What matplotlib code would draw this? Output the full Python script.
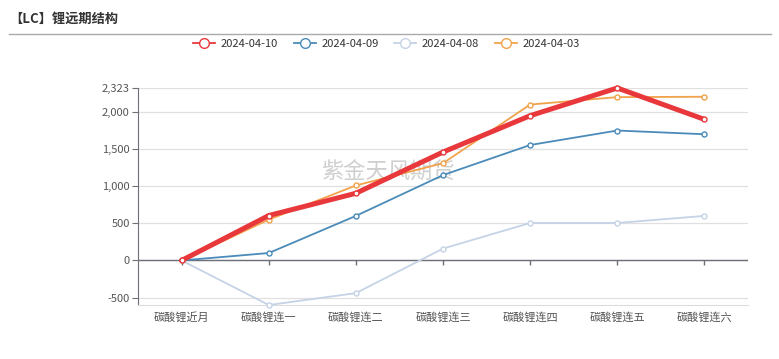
import matplotlib
matplotlib.use("Agg")
import matplotlib.pyplot as plt
from matplotlib.lines import Line2D
from matplotlib.ticker import FuncFormatter

plt.rcParams['font.family'] = ['Noto Sans CJK SC', 'DejaVu Sans']

categories = ["碳酸锂近月", "碳酸锂连一", "碳酸锂连二", "碳酸锂连三", "碳酸锂连四", "碳酸锂连五", "碳酸锂连六"]
series_names = ["2024-04-10", "2024-04-09", "2024-04-08", "2024-04-03"]
s_0410 = [0, 605, 905, 1460, 1950, 2323, 1900]
s_0409 = [0, 100, 600, 1150, 1555, 1750, 1700]
s_0408 = [0, -600, -440, 160, 505, 505, 600]
s_0403 = [0, 550, 1010, 1310, 2100, 2200, 2205]
y_ticks = [-500, 0, 500, 1000, 1500, 2000, 2323]
y_min, y_max = -600, 2323

colors = ["#e8383c", "#4a8bb9", "#c5d3e6", "#f1a24a"]
widths = [3.6, 1.3, 1.3, 1.3]

fig = plt.figure(figsize=(7.79, 3.59), dpi=100)
ax = fig.add_axes([0.1772, 0.1504, 0.7830, 0.6045])

x = list(range(len(categories)))
data = [s_0410, s_0409, s_0408, s_0403]
order = [2, 1, 3, 0]
for i in order:
    ax.plot(x, data[i], color=colors[i], lw=widths[i], marker='o', ms=3.6,
            mfc='white', mec=colors[i], mew=1.0, zorder=3 + (2 if i == 0 else 0),
            solid_capstyle='round', solid_joinstyle='round', clip_on=False)

ax.set_xlim(-0.5, len(categories) - 0.5)
ax.set_ylim(y_min, y_max)
ax.set_yticks(y_ticks)
ax.yaxis.set_major_formatter(FuncFormatter(lambda v, p: f"{int(v):,}"))
ax.set_xticks(x)
ax.set_xticklabels(categories)

for t in y_ticks:
    ax.axhline(t, color="#e0e0e0", lw=0.9, zorder=1)
ax.axhline(0, color="#6e7079", lw=1.0, zorder=2)
ax.vlines(x, 0, -65, color="#6e7079", lw=1.0, zorder=2)

for s in ["top", "right"]:
    ax.spines[s].set_visible(False)
ax.spines["left"].set_color("#6e7079")
ax.spines["bottom"].set_color("#dcdcdc")
ax.tick_params(axis='y', length=4, color="#6e7079", labelsize=8, labelcolor="#555555", pad=2)
ax.tick_params(axis='x', length=0, labelsize=8, labelcolor="#555555", pad=5)

ax.text(0.41, 0.613, "紫金天风期货", transform=ax.transAxes, ha='center', va='center',
        fontsize=16, color="#c4c4c4", alpha=0.8, zorder=2.5)

fig.text(0.012, 0.948, "【LC】锂远期结构", fontsize=9.5, fontweight='bold', color="#333333",
         ha='left', va='center')
fig.add_artist(Line2D([0.012, 0.99], [0.905, 0.905], color="#aaaaaa", lw=1.0))

handles = [Line2D([0], [0], color=colors[i], lw=1.3, marker='o', ms=7, mfc='white',
                  mec=colors[i], mew=1.0) for i in range(4)]
fig.legend(handles, series_names, loc='center', bbox_to_anchor=(0.496, 0.877), ncol=4,
           frameon=False, fontsize=8, handlelength=2.0, handletextpad=0.5,
           columnspacing=1.4, labelcolor="#333333")

fig.savefig("out.png", dpi=100)
